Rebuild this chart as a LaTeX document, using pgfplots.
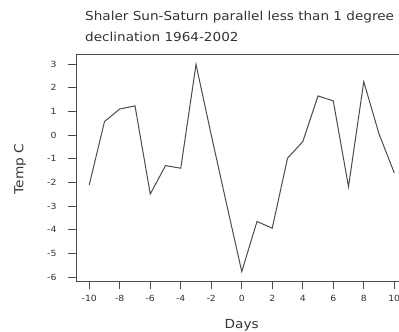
\documentclass[border=0pt]{standalone}
\usepackage{pgfplots}
\pgfplotsset{compat=1.18}
\usepackage{fontspec}
\setmainfont{DejaVu Sans}[FakeStretch=1.1]
\newfontfamily\chartfont{DejaVu Sans}[FakeStretch=1.1]

\definecolor{inkgray}{gray}{0.3}
\definecolor{textgray}{gray}{0.2}

% mean temperature anomaly around each event day
\pgfplotstableread{
day  temp
-10  -2.10
-9    0.57
-8    1.10
-7    1.23
-6   -2.49
-5   -1.29
-4   -1.40
-3    2.98
-2    0.00
-1   -2.90
0    -5.76
1    -3.65
2    -3.93
3    -0.98
4    -0.28
5     1.65
6     1.44
7    -2.18
8     2.25
9     0.05
10   -1.60
}\tempdata

\begin{document}
\begin{tikzpicture}[x=1bp,y=1bp]
\clip (0,0) rectangle (399,-332);
\path[use as bounding box] (0,0) rectangle (399,-332);

\node[anchor=base west, inner sep=0, text=textgray,
      font=\chartfont\fontsize{12.4}{14}\selectfont] at (85,-20)
  {Shaler Sun-Saturn parallel less than 1 degree};
\node[anchor=base west, inner sep=0, text=textgray,
      font=\chartfont\fontsize{12.4}{14}\selectfont] at (85,-41.5)
  {declination 1964-2002};

\begin{axis}[
  at={(76bp,-281bp)}, anchor=south west,
  scale only axis,
  width=327.4bp, height=226.3bp,
  xmin=-10.87, xmax=10.6,
  ymin=-6.16, ymax=3.39,
  xtick={-10,-8,...,10},
  ytick={-6,-5,...,3},
  xtick pos=left, ytick pos=left,
  tick align=outside,
  major tick length=8bp,
  axis line style={inkgray, line width=0.7bp},
  tick style={inkgray, line width=0.7bp},
  /pgf/number format/assume math mode=true,
  tick label style={font=\chartfont\fontsize{8.5}{9}\selectfont, text=textgray},
  yticklabel style={xshift=-8bp},
  xticklabel style={yshift=-3bp},
  xlabel={Days},
  ylabel={Temp C},
  label style={font=\chartfont\fontsize{12.5}{14}\selectfont, text=textgray},
  xlabel style={at={(axis description cs:0.506,-0.194)}, anchor=center},
  ylabel style={at={(axis description cs:-0.171,0.495)}, anchor=center},
]
\addplot[inkgray, line width=1bp, mark=none] table[x=day, y=temp] {\tempdata};
\end{axis}
\end{tikzpicture}
\end{document}
